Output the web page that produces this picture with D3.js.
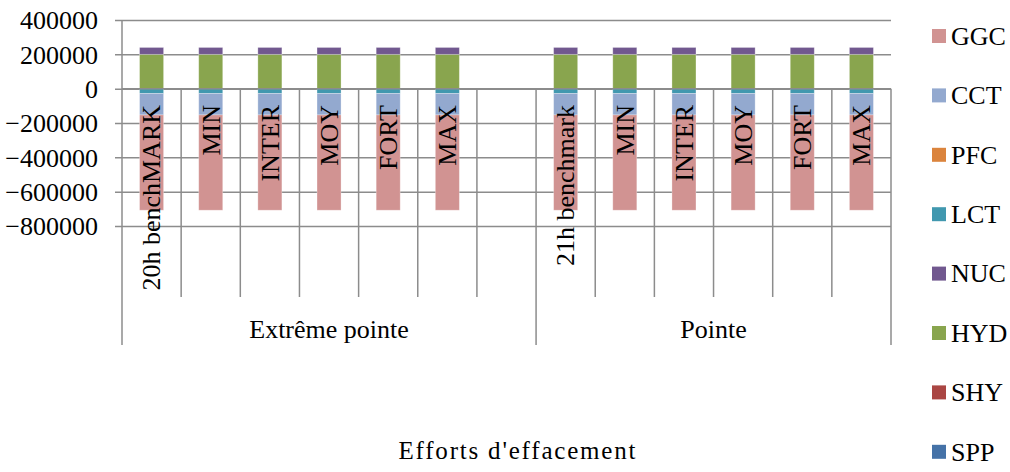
<!DOCTYPE html>
<html>
<head>
<meta charset="utf-8">
<script src="https://cdn.jsdelivr.net/npm/d3@7"></script>
<style>
  html, body { margin: 0; padding: 0; background: #fff; }
  svg { display: block; }
</style>
</head>
<body>
<svg id="chart" width="1010" height="472"></svg>
<script>
// Scenario groups and the scenarios inside them (an empty slot closes the first group)
const groups = ["Extrême pointe", "Pointe"];
const groupScenarios = [
  ["20h benchMARK", "MIN", "INTER", "MOY", "FORT", "MAX", ""],
  ["21h benchmark", "MIN", "INTER", "MOY", "FORT", "MAX"]
];

// Series in stacking order (legend lists them in reverse)
const seriesNames = ["SPP", "SHY", "HYD", "NUC", "LCT", "PFC", "CCT", "GGC"];
const seriesColors = ["#4572A7", "#AA4643", "#89A54E", "#71588F", "#4198AF", "#DB843D", "#93A9CF", "#D19392"];

// Values per slot, in slot order (13 slots; the 7th is empty)
const SPP = [0, 0, 0, 0, 0, 0, null, 0, 0, 0, 0, 0, 0];
const SHY = [0, 0, 0, 0, 0, 0, null, 0, 0, 0, 0, 0, 0];
const HYD = [200000, 200000, 200000, 200000, 200000, 200000, null, 200000, 200000, 200000, 200000, 200000, 200000];
const NUC = [40000, 40000, 40000, 40000, 40000, 40000, null, 40000, 40000, 40000, 40000, 40000, 40000];
const LCT = [-28000, -28000, -28000, -28000, -28000, -28000, null, -28000, -28000, -28000, -28000, -28000, -28000];
const PFC = [0, 0, 0, 0, 0, 0, null, 0, 0, 0, 0, 0, 0];
const CCT = [-125000, -125000, -125000, -125000, -125000, -125000, null, -125000, -125000, -125000, -125000, -125000, -125000];
const GGC = [-555000, -555000, -555000, -555000, -555000, -555000, null, -555000, -555000, -555000, -555000, -555000, -555000];

const yTicks = [400000, 200000, 0, -200000, -400000, -600000, -800000];
const axisTitle = "Efforts d'effacement";

const seriesValues = { SPP, SHY, HYD, NUC, LCT, PFC, CCT, GGC };

// Build slot rows
const slots = [];
groupScenarios.forEach((list, gi) => {
  list.forEach((name, si) => {
    slots.push({ key: gi + "|" + si, group: gi, label: name });
  });
});
slots.forEach((s, i) => {
  seriesNames.forEach(n => { s[n] = seriesValues[n][i] == null ? 0 : seriesValues[n][i]; });
  s.empty = seriesValues.HYD[i] == null;
});

const fontFamily = '"Liberation Serif"';
const fontSize = 26;
// Apply the serif face and size directly on a text selection
const serif = (sel, size) => sel
  .style("font-family", fontFamily)
  .attr("font-size", size || fontSize)
  .attr("fill", "#000");

const svg = d3.select("#chart");
const root = svg.append("g");

const plotLeft = 122, plotRight = 891, plotTop = 20, plotBottom = 226;
const labelBottom = 297, groupBottom = 345;
const gridColor = "#8c8c8c";

const x = d3.scaleBand()
  .domain(slots.map(d => d.key))
  .range([plotLeft, plotRight])
  .paddingInner(0.594)
  .paddingOuter(0.297);

const y = d3.scaleLinear().domain([-800000, 400000]).range([plotBottom, plotTop]);

// Horizontal gridlines with left tick marks
const yAxis = d3.axisLeft(y)
  .tickValues(yTicks)
  .tickSize(-(plotRight - plotLeft))
  .tickSizeOuter(0)
  .tickPadding(24)
  .tickFormat(d3.format("d"));

const gy = root.append("g").attr("transform", `translate(${plotLeft},0)`).call(yAxis);
gy.attr("font-family", null).attr("font-size", null);
gy.select(".domain").remove();
gy.selectAll(".tick line")
  .attr("x1", -7)
  .attr("stroke", gridColor)
  .attr("stroke-width", 1.5);
gy.selectAll(".tick text")
  .call(serif)
  .attr("dy", "0.34em");

// Stacked bars (diverging around zero)
const stack = d3.stack()
  .keys(seriesNames)
  .offset(d3.stackOffsetDiverging);
const layers = stack(slots.filter(s => !s.empty));

root.append("g")
  .selectAll("g")
  .data(layers)
  .join("g")
  .attr("fill", (d, i) => seriesColors[i])
  .selectAll("rect")
  .data(d => d)
  .join("rect")
  .attr("x", d => x(d.data.key))
  .attr("width", x.bandwidth())
  .attr("y", d => y(Math.max(d[0], d[1])))
  .attr("height", d => Math.abs(y(d[0]) - y(d[1])))
  .attr("stroke", "#ffffff")
  .attr("stroke-opacity", 0.35)
  .attr("stroke-width", 0.8);

// Category axis: zero line, slot separators, group separators
const axisG = root.append("g").attr("stroke", gridColor).attr("stroke-width", 1.5);
const y0 = y(0);
axisG.append("line").attr("x1", plotLeft).attr("x2", plotRight).attr("y1", y0).attr("y2", y0);
axisG.append("line").attr("x1", plotLeft).attr("x2", plotLeft).attr("y1", plotTop).attr("y2", groupBottom);

const step = x.step();
const slotStart = i => x(slots[i].key) - x.paddingInner() * step / 2;
slots.forEach((s, i) => {
  if (i === 0) return;
  const xs = slotStart(i);
  const isGroupEdge = slots[i - 1].group !== s.group;
  axisG.append("line")
    .attr("x1", xs).attr("x2", xs)
    .attr("y1", y0).attr("y2", isGroupEdge ? groupBottom : labelBottom);
});
axisG.append("line").attr("x1", plotRight).attr("x2", plotRight).attr("y1", y0).attr("y2", groupBottom);

// Scenario labels, rotated
root.append("g")
  .selectAll("text")
  .data(slots.filter(s => s.label))
  .join("text")
  .attr("transform", d => `translate(${x(d.key) + x.bandwidth() / 2},105) rotate(-90)`)
  .attr("text-anchor", "end")
  .attr("dy", "0.34em")
  .call(serif)
  .text(d => d.label);

// Group labels
groups.forEach((g, gi) => {
  const idx = slots.map((s, i) => i).filter(i => slots[i].group === gi);
  const x0 = slotStart(idx[0]);
  const x1 = idx[idx.length - 1] + 1 < slots.length ? slotStart(idx[idx.length - 1] + 1) : plotRight;
  root.append("text")
    .attr("x", (x0 + x1) / 2)
    .attr("y", 338)
    .attr("text-anchor", "middle")
    .call(serif)
    .text(g);
});

// Axis title
root.append("text")
  .attr("x", 517)
  .attr("y", 459)
  .attr("text-anchor", "middle")
  .attr("textLength", 237)
  .attr("lengthAdjust", "spacing")
  .call(serif, 25)
  .text(axisTitle);

// Legend (reverse of stacking order)
const legendNames = seriesNames.slice().reverse();
const legendColors = seriesColors.slice().reverse();
const legend = root.append("g")
  .selectAll("g")
  .data(legendNames)
  .join("g")
  .attr("transform", (d, i) => `translate(932,${36 + i * 59.4})`);
legend.append("rect")
  .attr("x", 0).attr("y", -7).attr("width", 14).attr("height", 14)
  .attr("fill", (d, i) => legendColors[i]);
legend.append("text")
  .attr("x", 19)
  .attr("dy", "0.34em")
  .call(serif)
  .text(d => d);
</script>
</body>
</html>
